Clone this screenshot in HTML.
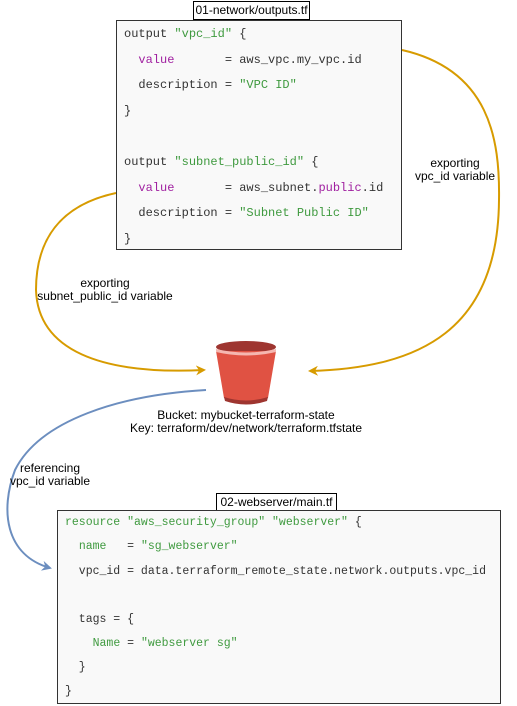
<!DOCTYPE html>
<html><head><meta charset="utf-8"><style>
body{margin:0;width:517px;height:706px;background:#fff;overflow:hidden;position:relative;font-family:"Liberation Sans",sans-serif}
.code{position:absolute;background:#f9f9f9;border:1px solid #333;box-sizing:border-box;font-family:"Liberation Mono",monospace;font-size:12px;color:#333;white-space:pre}
.code div{position:absolute;left:7px}
.lbl{position:absolute;background:#fff;border:1px solid #000;font-size:12px;text-align:center;box-sizing:border-box;line-height:16px}
.t{position:absolute;font-size:12px;text-align:center;line-height:13px;color:#000;white-space:nowrap}
.g{color:#3f9a3f}.p{color:#a020a0}
svg{position:absolute;left:0;top:0}
</style></head><body>
<svg width="517" height="706">
<defs>
<marker id="ao" markerWidth="10" markerHeight="10" refX="8" refY="5" orient="auto" markerUnits="userSpaceOnUse"><path d="M0,0 L10,5 L0,10 L3,5 Z" fill="#d79b00"/></marker>
<marker id="ab" markerWidth="10" markerHeight="10" refX="8" refY="5" orient="auto" markerUnits="userSpaceOnUse"><path d="M0,0 L10,5 L0,10 L3,5 Z" fill="#6c8ebf"/></marker>
</defs>
<path d="M402,50 C490,70 500,140 499,200 C498,330 420,368 310,371" fill="none" stroke="#d79b00" stroke-width="2" marker-end="url(#ao)"/>
<path d="M116,193 C60,205 36,240 36,290 C38,350 100,375 204,370" fill="none" stroke="#d79b00" stroke-width="2" marker-end="url(#ao)"/>
<path d="M206,390 C120,395 40,420 15,470 C0,510 5,555 50,568" fill="none" stroke="#6c8ebf" stroke-width="2" marker-end="url(#ab)"/>
<ellipse cx="246" cy="347" rx="30" ry="6" fill="#9e3530"/>
<path d="M216,351 L276,351 L268,398 Q246,405 224,398 Z" fill="#e05243"/>
<path d="M216,349 Q246,356 276,349 L276,352 Q246,359 216,352 Z" fill="#f5b7b0"/>
<path d="M224,397 Q246,404 268,397 L267,401 Q246,408 225,401 Z" fill="#9e3530"/>
</svg>
<div class="lbl" style="left:193px;top:1px;width:117px;height:19px">01-network/outputs.tf</div>
<div class="code" style="left:116px;top:20px;width:286px;height:230px">
<div style="top:6px">output <span class="g">"vpc_id"</span> {</div>
<div style="top:32px">  <span class="p">value</span>       = aws_vpc.my_vpc.id</div>
<div style="top:57px">  description = <span class="g">"VPC ID"</span></div>
<div style="top:83px">}</div>
<div style="top:134px">output <span class="g">"subnet_public_id"</span> {</div>
<div style="top:160px">  <span class="p">value</span>       = aws_subnet.<span class="p">public</span>.id</div>
<div style="top:185px">  description = <span class="g">"Subnet Public ID"</span></div>
<div style="top:211px">}</div>
</div>
<div class="t" style="left:415px;top:157px;width:80px">exporting<br>vpc_id variable</div>
<div class="t" style="left:30px;top:277px;width:150px">exporting<br>subnet_public_id variable</div>
<div class="t" style="left:100px;top:409px;width:292px">Bucket: mybucket-terraform-state<br>Key: terraform/dev/network/terraform.tfstate</div>
<div class="t" style="left:5px;top:462px;width:90px">referencing<br>vpc_id variable</div>
<div class="lbl" style="left:216px;top:493px;width:121px;height:18px">02-webserver/main.tf</div>
<div class="code" style="left:57px;top:510px;width:444px;height:194px;font-size:11.5px">
<div style="top:5px"><span class="g">resource "aws_security_group" "webserver"</span> {</div>
<div style="top:29px">  <span class="g">name</span>   = <span class="g">"sg_webserver"</span></div>
<div style="top:54px">  vpc_id = data.terraform_remote_state.network.outputs.vpc_id</div>
<div style="top:102px">  tags = {</div>
<div style="top:126px">    <span class="g">Name</span> = <span class="g">"webserver sg"</span></div>
<div style="top:150px">  }</div>
<div style="top:174px">}</div>
</div>
</body></html>
